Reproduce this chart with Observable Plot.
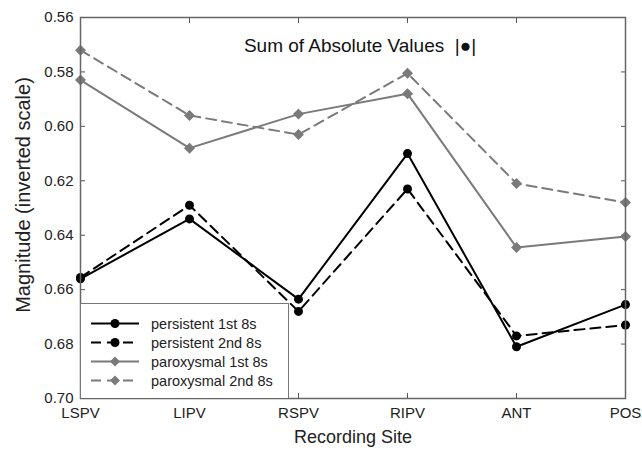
<!DOCTYPE html>
<html>
<head>
<meta charset="utf-8">
<script src="https://cdn.jsdelivr.net/npm/d3@7"></script>
<script src="https://cdn.jsdelivr.net/npm/@observablehq/plot@0.6"></script>
<style>
  body { margin: 0; background: #fff; }
  #wrap { position: relative; width: 642px; height: 457px; font-family: "Liberation Sans", Arial, sans-serif; }
  #legend { position: absolute; left: 80px; top: 303px; width: 207px; height: 94px; background: #fff; border: 1px solid #777; border-bottom: none; }
  #legend svg { display: block; }
</style>
</head>
<body>
<div id="wrap"></div>
<script>
const sites = ["LSPV", "LIPV", "RSPV", "RIPV", "ANT", "POS"];
const persistent1 = [0.656, 0.634, 0.6635, 0.610, 0.681, 0.6655];
const persistent2 = [0.6555, 0.629, 0.668, 0.623, 0.677, 0.673];
const paroxysmal1 = [0.583, 0.608, 0.5955, 0.588, 0.6445, 0.6405];
const paroxysmal2 = [0.572, 0.596, 0.603, 0.5805, 0.621, 0.628];
const yTicks = [0.56, 0.58, 0.60, 0.62, 0.64, 0.66, 0.68, 0.70];
const titleText = "Sum of Absolute Values\u00A0\u00A0|\u25CF|";

const series = [
  {name: "persistent 1st 8s", values: persistent1, color: "#000", dash: null, symbol: "circle"},
  {name: "persistent 2nd 8s", values: persistent2, color: "#000", dash: "10,6", symbol: "circle"},
  {name: "paroxysmal 1st 8s", values: paroxysmal1, color: "#7a7a7a", dash: null, symbol: "diamond2"},
  {name: "paroxysmal 2nd 8s", values: paroxysmal2, color: "#7a7a7a", dash: "10,6", symbol: "diamond2"}
];

const marks = [];
for (const s of series) {
  const data = sites.map((site, i) => ({site, value: s.values[i]}));
  marks.push(Plot.line(data, {x: "site", y: "value", stroke: s.color, strokeWidth: 2, strokeDasharray: s.dash}));
  marks.push(Plot.dot(data, {x: "site", y: "value", fill: s.color, stroke: s.symbol === "circle" ? "none" : s.color, symbol: s.symbol, r: s.symbol === "circle" ? 4.5 : 4}));
}

const chart = Plot.plot({
  width: 642,
  height: 457,
  marginLeft: 80,
  marginRight: 17,
  marginTop: 17,
  marginBottom: 59,
  style: {fontFamily: "'Liberation Sans', Arial, sans-serif", fontSize: "15px", color: "#222", background: "#fff"},
  x: {type: "point", domain: sites, padding: 0},
  y: {domain: [0.56, 0.70], reverse: true},
  marks: [
    Plot.axisY(yTicks, {anchor: "left", tickSize: 0, tickPadding: 7, tickFormat: d3.format(".2f"), label: null, fontSize: 15}),
    Plot.axisY(yTicks, {anchor: "left", tickSize: -5, tickFormat: () => "", label: null, stroke: "#555"}),
    Plot.axisY(yTicks, {anchor: "right", tickSize: -5, tickFormat: () => "", label: null, stroke: "#555"}),
    Plot.axisX(sites, {anchor: "bottom", tickSize: 0, tickPadding: 9, label: null, fontSize: 15}),
    Plot.axisX(sites, {anchor: "bottom", tickSize: -5, tickFormat: () => "", label: null, stroke: "#555"}),
    Plot.axisX(sites, {anchor: "top", tickSize: -5, tickFormat: () => "", label: null, stroke: "#555"}),
    Plot.text(["Magnitude (inverted scale)"], {frameAnchor: "left", textAnchor: "middle", dx: -57, dy: -13, rotate: -90, fontSize: 20, fill: "#222"}),
    Plot.text(["Recording Site"], {frameAnchor: "bottom", dy: 44, fontSize: 18, fill: "#222"}),
    Plot.text([titleText], {frameAnchor: "top", dy: 21, dx: 7, fontSize: 19, fill: "#111"}),
    ...marks,
    Plot.frame({stroke: "#666", strokeWidth: 1.5})
  ]
});

const wrap = document.getElementById("wrap");
wrap.appendChild(chart);

// legend
const leg = document.createElement("div");
leg.id = "legend";
const lsvg = d3.create("svg").attr("width", 207).attr("height", 94);
series.forEach((s, i) => {
  const y = 19.5 + i * 19;
  lsvg.append("line").attr("x1", 10).attr("x2", 58).attr("y1", y).attr("y2", y)
    .attr("stroke", s.color).attr("stroke-width", 2).attr("stroke-dasharray", s.dash ? "10,6" : null);
  if (s.symbol === "circle") {
    lsvg.append("circle").attr("cx", 34).attr("cy", y).attr("r", 4.5).attr("fill", s.color);
  } else {
    lsvg.append("path").attr("d", `M34,${y - 5}L39,${y}L34,${y + 5}L29,${y}Z`).attr("fill", s.color);
  }
  lsvg.append("text").attr("x", 70).attr("y", y).attr("dy", "0.35em")
    .attr("font-size", 14.5).attr("fill", "#222").text(s.name);
});
leg.appendChild(lsvg.node());
wrap.appendChild(leg);
</script>
</body>
</html>
